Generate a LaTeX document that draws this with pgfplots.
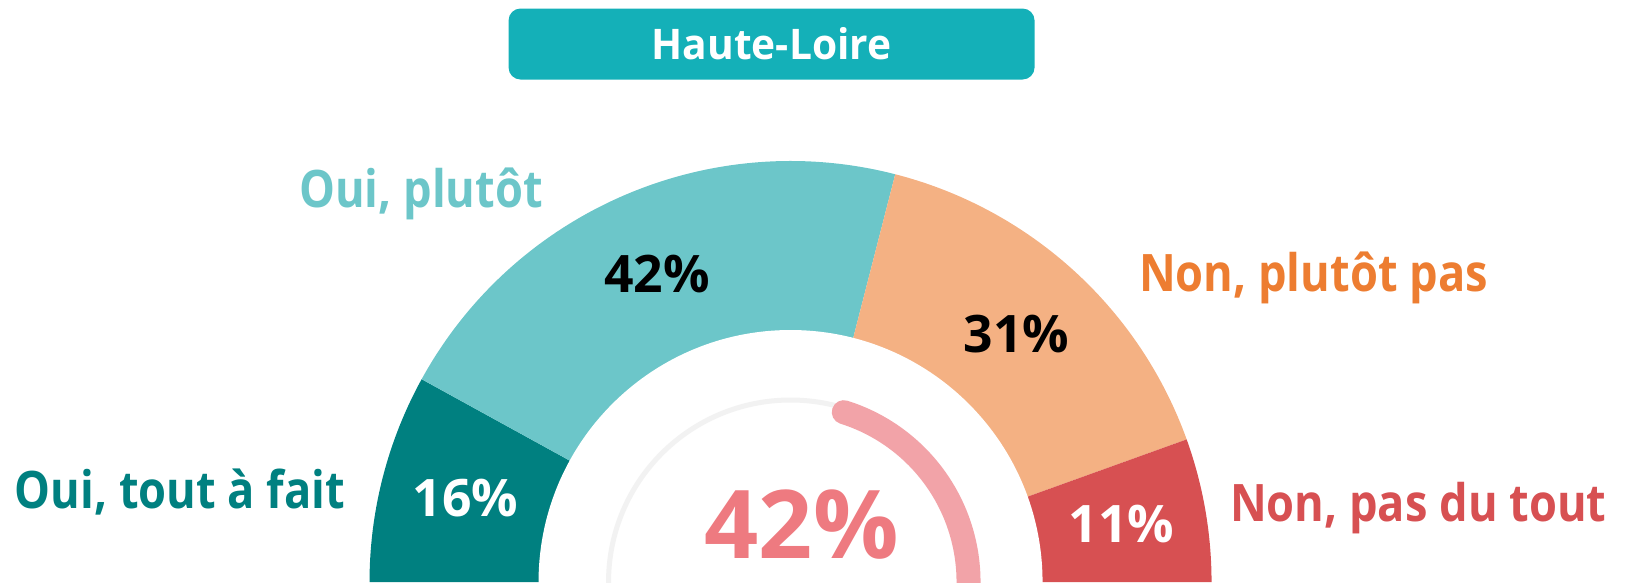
\documentclass[border=0pt]{standalone}
\usepackage{pgfplots}
\pgfplotsset{compat=1.18}
\usepackage{fontspec}
\setmainfont{Open Sans}
\newfontfamily\labfont{Open Sans}[FakeStretch=0.875]
\newfontfamily\titfont{Open Sans}[FakeStretch=0.965]
\definecolor{cA}{HTML}{008080}
\definecolor{cB}{HTML}{6CC6C9}
\definecolor{cC}{HTML}{F4B183}
\definecolor{cD}{HTML}{D75052}
\definecolor{tC}{HTML}{ED7D31}
\definecolor{titlec}{HTML}{14B0B8}
\definecolor{ringc}{HTML}{F2F2F2}
\definecolor{arcc}{HTML}{F2A3A8}
\definecolor{centc}{HTML}{EE7A80}
\begin{document}
\begin{tikzpicture}
\useasboundingbox (0,0) rectangle (16.35,5.82);
% data (percent)
\def\vA{16}\def\vB{42}\def\vC{31}\def\vD{11}
\def\vGauge{42}
\pgfmathsetmacro\tA{180}
\pgfmathsetmacro\tB{\tA-1.8*\vA}
\pgfmathsetmacro\tC{\tB-1.8*\vB}
\pgfmathsetmacro\tD{\tC-1.8*\vC}
\pgfmathsetmacro\tE{\tD-1.8*\vD}
\pgfmathsetmacro\mA{(\tA+\tB)/2}
\pgfmathsetmacro\mB{(\tB+\tC)/2}
\pgfmathsetmacro\mC{(\tC+\tD)/2}
\pgfmathsetmacro\mD{(\tD+\tE)/2}
\pgfmathsetmacro\xA{791+336*cos(\mA)}\pgfmathsetmacro\yA{336*sin(\mA)}
\pgfmathsetmacro\xB{791+336*cos(\mB)}\pgfmathsetmacro\yB{336*sin(\mB)}
\pgfmathsetmacro\xC{791+336*cos(\mC)}\pgfmathsetmacro\yC{336*sin(\mC)}
\pgfmathsetmacro\xD{791+336*cos(\mD)}\pgfmathsetmacro\yD{336*sin(\mD)}
\pgfmathsetmacro\gS{1.8*\vGauge-3}
\begin{axis}[x=0.01cm,y=0.01cm,xmin=0,xmax=1635,ymin=0,ymax=582,
  hide axis,scale only axis,at={(0,0)},anchor=south west,clip=true]
\fill[cA] (axis cs:791,0) -- ++(\tA:4.21cm) arc[start angle=\tA,end angle=\tB,radius=4.21cm] -- cycle;
\fill[cB] (axis cs:791,0) -- ++(\tB:4.21cm) arc[start angle=\tB,end angle=\tC,radius=4.21cm] -- cycle;
\fill[cC] (axis cs:791,0) -- ++(\tC:4.21cm) arc[start angle=\tC,end angle=\tD,radius=4.21cm] -- cycle;
\fill[cD] (axis cs:791,0) -- ++(\tD:4.21cm) arc[start angle=\tD,end angle=\tE,radius=4.21cm] -- cycle;
\fill[white] (axis cs:791,0) circle[radius=2.52cm];
\draw[ringc,line width=0.05cm] (axis cs:791,0) circle[radius=1.82cm];
\draw[arcc,line width=0.24cm,line cap=round] (axis cs:791,0) ++(\gS:1.78cm) arc[start angle=\gS,end angle=-30,radius=1.78cm];
\tikzset{lab/.style={font=\bfseries\fontsize{14.7}{16}\selectfont,inner sep=0pt},
  cat/.style={font=\labfont\bfseries\fontsize{14.7}{16}\selectfont,inner sep=0pt}}
\node[lab,white] at (axis cs:\xA,\yA) {\vA\%};
\node[lab,black] at (axis cs:\xB,\yB) {\vB\%};
\node[lab,black] at (axis cs:\xC,\yC) {\vC\%};
\node[lab,white] at (axis cs:\xD,\yD) {\vD\%};
\node[cat,cA,anchor=base east] at (axis cs:346,74) {Oui, tout à fait};
\node[cat,cB,anchor=base east] at (axis cs:544,374.5) {Oui, plutôt};
\node[cat,tC,anchor=base west] at (axis cs:1139,291) {Non, plutôt pas};
\node[cat,cD,anchor=base west] at (axis cs:1230,61) {Non, pas du tout};
\node[font=\bfseries\fontsize{27}{30}\selectfont,centc,anchor=base,inner sep=0pt] at (axis cs:802,24) {\vGauge\%};
\node[fill=titlec,rounded corners=0.12cm,minimum width=5.26cm,minimum height=0.71cm,inner sep=0pt,
  text=white,font=\titfont\bfseries\fontsize{12}{14}\selectfont] at (axis cs:772,538.3) {Haute-Loire};
\end{axis}
\end{tikzpicture}
\end{document}
